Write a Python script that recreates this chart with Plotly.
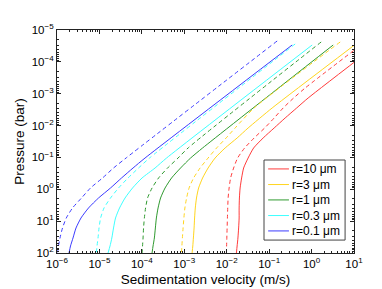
import plotly.graph_objects as go

# ---- data (pressure in bar, velocity in m/s) ----
radius_labels = ["r=10 μm", "r=3 μm", "r=1 μm", "r=0.3 μm", "r=0.1 μm"]
colors = ["#ff3b3b", "#ffd51f", "#2f9a2f", "#3dffff", "#3b3bff"]

# r = 10 um
p_r10_solid = [2.96e-5, 1.362e-3, 2.806e-3, 5.78e-3, 0.01191, 0.02453, 0.0505, 0.1042, 0.2145, 0.4418,
               0.910, 1.876, 3.862, 7.958, 16.39, 33.78, 60.2, 100]
v_r10_solid = [34.1, 0.8315, 0.4453, 0.2384, 0.1312, 0.07219, 0.04309, 0.03196, 0.02504, 0.02246,
               0.02070, 0.01993, 0.01962, 0.01962, 0.01909, 0.01838, 0.01759, 0.01693]
p_r10_dash = [2.379e-5, 6.61e-4, 1.362e-3, 2.806e-3, 5.78e-3, 0.01191, 0.02453, 0.0505, 0.1042, 0.2145,
              0.4418, 0.910, 1.876, 3.862, 7.958, 16.39, 33.78, 60.2, 100]
v_r10_dash = [18.07, 0.7066, 0.3783, 0.2139, 0.1312, 0.07832, 0.04428, 0.02643, 0.01807, 0.01455,
              0.01236, 0.01139, 0.01079, 0.01056, 0.01039, 0.01022, 0.01006, 9.94e-3, 9.84e-3]

# r = 3 um
p_r3_solid = [2.96e-5, 2.806e-3, 0.01191, 0.02453, 0.0505, 0.1042, 0.2145, 0.4418, 0.910, 1.876,
              3.862, 7.958, 16.39, 33.78, 60.2, 100]
v_r3_solid = [10.28, 0.1177, 0.03196, 0.01759, 9.17e-3, 5.326e-3, 3.640e-3, 2.701e-3, 2.174e-3, 1.939e-3,
              1.817e-3, 1.749e-3, 1.702e-3, 1.639e-3, 1.587e-3, 1.528e-3]
p_r3_dash = [2.379e-5, 2.806e-3, 0.01191, 0.02453, 0.0505, 0.1042, 0.2145, 0.4418, 0.910, 1.876,
             3.862, 7.958, 16.39, 33.78, 60.2, 100]
v_r3_dash = [4.726, 0.04428, 0.01578, 9.68e-3, 5.779e-3, 3.640e-3, 2.358e-3, 1.657e-3, 1.298e-3, 1.133e-3,
             1.033e-3, 9.79e-4, 9.37e-4, 9.02e-4, 8.78e-4, 8.54e-4]

# r = 1 um
p_r1_solid = [2.96e-5, 0.0505, 0.1042, 0.2145, 0.4418, 0.910, 1.876, 3.862, 7.958, 16.39, 33.78, 60.2, 100]
v_r1_solid = [3.232, 2.701e-3, 1.408e-3, 8.180e-4, 5.017e-4, 3.525e-4, 2.761e-4, 2.411e-4, 2.198e-4,
              2.082e-4, 1.972e-4, 1.837e-4, 1.740e-4]
p_r1_dash = [2.379e-5, 0.0505, 0.1042, 0.2145, 0.4418, 0.910, 1.876, 3.862, 7.958, 16.39, 33.78, 60.2, 100]
v_r1_dash = [1.684, 1.229e-3, 7.141e-4, 4.038e-4, 2.477e-4, 1.740e-4, 1.363e-4, 1.223e-4, 1.146e-4,
             1.097e-4, 1.067e-4, 1.038e-4, 1.011e-4]

# r = 0.3 um
p_r03_solid = [2.96e-5, 0.1042, 0.2145, 0.4418, 0.910, 1.876, 3.862, 7.958, 16.39, 33.78, 60.2, 100]
v_r03_solid = [1.033, 3.824e-4, 2.048e-4, 1.011e-4, 6.035e-5, 4.016e-5, 2.979e-5, 2.397e-5, 2.150e-5,
               1.961e-5, 1.778e-5, 1.595e-5]
p_r03_dash = [2.750e-5, 0.1042, 0.2145, 0.4418, 0.910, 1.876, 3.862, 7.958, 16.39, 33.78, 60.2, 100]
v_r03_dash = [0.4104, 1.519e-4, 8.364e-5, 4.725e-5, 2.821e-5, 1.827e-5, 1.284e-5, 1.067e-5, 9.786e-6,
              9.268e-6, 8.777e-6, 8.450e-6]

# r = 0.1 um
p_r01_solid = [2.96e-5, 0.1042, 0.2145, 0.4418, 0.910, 1.876, 3.862, 7.958, 16.39, 33.78, 60.2, 100]
v_r01_solid = [0.3487, 1.190e-4, 6.201e-5, 3.321e-5, 1.827e-5, 9.524e-6, 5.531e-6, 3.681e-6, 2.806e-6,
               2.384e-6, 2.082e-6, 1.919e-6]
p_r01_dash = [2.215e-5, 0.1042, 0.2145, 0.4418, 0.910, 1.876, 3.862, 7.958, 16.39, 33.78, 60.2, 100]
v_r01_dash = [0.1544, 4.240e-5, 2.150e-5, 1.183e-5, 6.168e-6, 3.782e-6, 2.320e-6, 1.657e-6, 1.348e-6,
              1.177e-6, 1.085e-6, 1.027e-6]

solid_p = [p_r10_solid, p_r3_solid, p_r1_solid, p_r03_solid, p_r01_solid]
solid_v = [v_r10_solid, v_r3_solid, v_r1_solid, v_r03_solid, v_r01_solid]
dash_p = [p_r10_dash, p_r3_dash, p_r1_dash, p_r03_dash, p_r01_dash]
dash_v = [v_r10_dash, v_r3_dash, v_r1_dash, v_r03_dash, v_r01_dash]

x_tick_vals = [1e-6, 1e-5, 1e-4, 1e-3, 1e-2, 1e-1, 1e0, 1e1]
x_tick_text = ["10<sup>−6</sup>", "10<sup>−5</sup>", "10<sup>−4</sup>", "10<sup>−3</sup>",
               "10<sup>−2</sup>", "10<sup>−1</sup>", "10<sup>0</sup>", "10<sup>1</sup>"]
y_tick_vals = [1e-5, 1e-4, 1e-3, 1e-2, 1e-1, 1e0, 1e1, 1e2]
y_tick_text = ["10<sup>−5</sup>", "10<sup>−4</sup>", "10<sup>−3</sup>", "10<sup>−2</sup>",
               "10<sup>−1</sup>", "10<sup>0</sup>", "10<sup>1</sup>", "10<sup>2</sup>"]

fig = go.Figure()
for i in range(5):
    fig.add_trace(go.Scatter(
        x=solid_v[i], y=solid_p[i], mode="lines", name=radius_labels[i], showlegend=False,
        line=dict(color=colors[i], width=1, shape="spline", smoothing=0.6),
    ))
for i in range(5):
    fig.add_trace(go.Scatter(
        x=dash_v[i], y=dash_p[i], mode="lines", showlegend=False,
        line=dict(color=colors[i], width=1, dash="4px,3px", shape="spline", smoothing=0.6),
    ))

axis_common = dict(
    type="log", showline=True, linecolor="#222", linewidth=1, mirror="ticks",
    ticks="inside", ticklen=4, tickcolor="#222", showgrid=False, zeroline=False,
    tickmode="array", tickfont=dict(size=11.5, color="black"),
    minor=dict(ticks="inside", ticklen=2, tickcolor="#222", dtick="D1", showgrid=False),
)

fig.update_xaxes(**axis_common, range=[-6, 1], tickvals=x_tick_vals, ticktext=x_tick_text,
                 title=dict(text="Sedimentation velocity (m/s)", font=dict(size=13.5, color="black"), standoff=5))
fig.update_yaxes(**axis_common, range=[2, -5], tickvals=y_tick_vals, ticktext=y_tick_text,
                 title=dict(text="Pressure (bar)", font=dict(size=13.5, color="black"), standoff=3))

# ---- legend box (drawn in paper coordinates) ----
leg_x0, leg_x1, leg_y0, leg_y1 = 0.697, 0.970, 0.058, 0.417
leg_rows = [0.377, 0.307, 0.238, 0.168, 0.099]
shapes = [dict(type="rect", xref="paper", yref="paper", x0=leg_x0, x1=leg_x1, y0=leg_y0, y1=leg_y1,
               line=dict(color="#444", width=1), fillcolor="white", layer="above")]
annotations = []
for i in range(5):
    shapes.append(dict(type="line", xref="paper", yref="paper", x0=0.711, x1=0.781,
                       y0=leg_rows[i], y1=leg_rows[i], line=dict(color=colors[i], width=1), layer="above"))
    annotations.append(dict(xref="paper", yref="paper", x=0.785, y=leg_rows[i], xanchor="left",
                            yanchor="middle", text=radius_labels[i], showarrow=False,
                            font=dict(size=12, color="black")))

fig.update_layout(
    width=382, height=289,
    margin=dict(l=49, r=36, t=22, b=44),
    paper_bgcolor="white", plot_bgcolor="white",
    font=dict(family="Liberation Sans, Arial, sans-serif", color="black"),
    shapes=shapes, annotations=annotations, showlegend=False,
)

fig.write_html("out.html")
